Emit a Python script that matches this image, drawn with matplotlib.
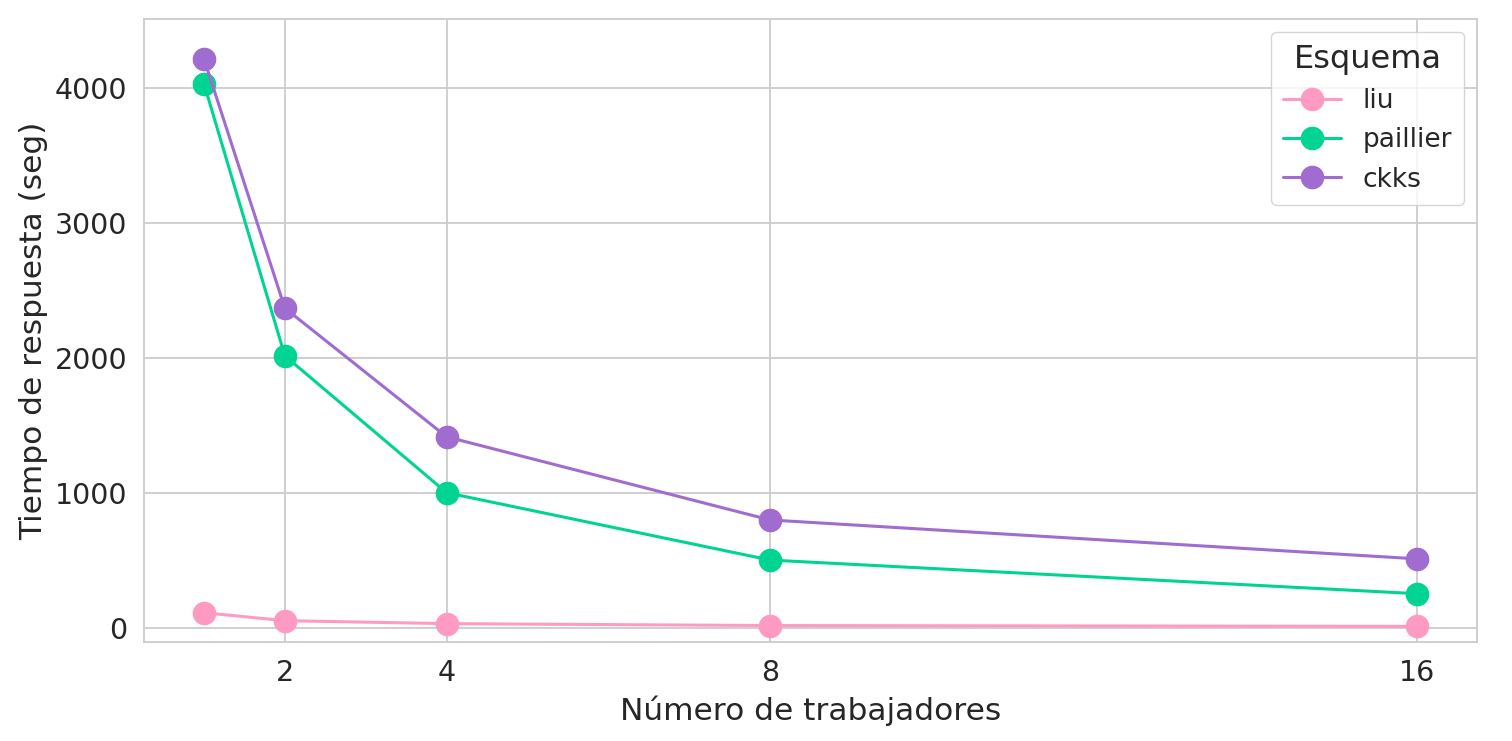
import matplotlib
matplotlib.use("Agg")
import matplotlib.pyplot as plt
import seaborn as sns

# data
workers = [1, 2, 4, 8, 16]
schemes = ["liu", "paillier", "ckks"]
liu = [111, 52, 30, 16, 10]
paillier = [4029, 2014, 1000, 501, 252]
ckks = [4213, 2367, 1414, 798, 510]
colors = ["#ff9bc3", "#00d492", "#a06ccf"]
xticks = [2, 4, 8, 16]

sns.set_theme(style="whitegrid")
plt.rcParams['font.family'] = ['DejaVu Sans']

fig = plt.figure(figsize=(15.12, 7.41), dpi=100)
ax = fig.add_axes([144 / 1512, 1 - 642 / 741, (1477 - 144) / 1512, (642 - 19) / 741])

for name, vals, c in zip(schemes, [liu, paillier, ckks], colors):
    ax.plot(workers, vals, marker="o", markersize=16, linewidth=2.2, color=c, label=name)

ax.set_xticks(xticks)
ax.set_xticklabels([str(t) for t in xticks])
ax.set_xlim(0.258, 16.742)
ax.set_ylim(-106, 4509)
ax.set_yticks([0, 1000, 2000, 3000, 4000])
ax.tick_params(axis="both", labelsize=20.5, pad=6)
ax.set_xlabel("Número de trabajadores", fontsize=22.5, labelpad=6)
ax.set_ylabel("Tiempo de respuesta (seg)", fontsize=22.5, labelpad=5)
for s in ax.spines.values():
    s.set_color("#cccccc")
    s.set_linewidth(1.3)
ax.grid(color="#cccccc", linewidth=1.3)

leg = ax.legend(title="Esquema", loc="upper right", fontsize=19, title_fontsize=23,
                frameon=True, borderpad=0.45, labelspacing=0.5, handlelength=2.2)
leg.get_frame().set_edgecolor("#cccccc")

fig.savefig("out.png", dpi=100)
